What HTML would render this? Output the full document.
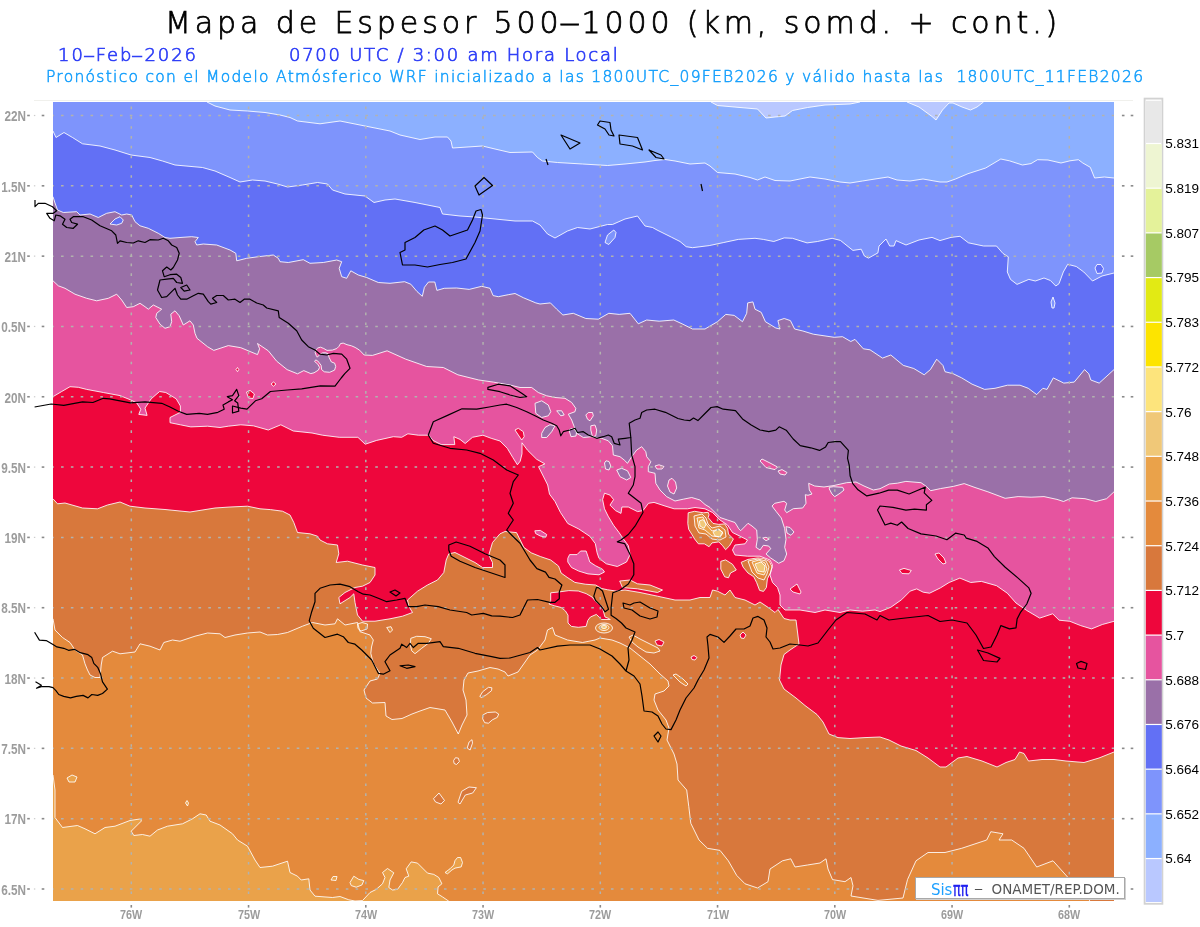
<!DOCTYPE html>
<html><head><meta charset="utf-8"><title>Mapa de Espesor 500-1000</title>
<style>
html,body{margin:0;padding:0;background:#fff;width:1200px;height:927px;overflow:hidden}
#w{position:relative;width:1200px;height:927px}
.cbl{font-family:"Liberation Sans",Arial,sans-serif;font-size:13.5px;fill:#000}
.t{position:absolute;white-space:pre;font-family:"Liberation Sans",Arial,sans-serif;line-height:1}
#t1{left:165px;top:8px;font-family:"DejaVu Sans",sans-serif;font-weight:200;font-size:30px;color:#000;letter-spacing:3.9px;-webkit-text-stroke:0.75px #000}
#t2{left:58px;top:45.7px;font-family:"DejaVu Sans",sans-serif;font-weight:200;font-size:18px;color:#2f3ff7;letter-spacing:1.94px;-webkit-text-stroke:0.7px #2f3ff7}
#t3{left:289px;top:45.7px;font-family:"DejaVu Sans",sans-serif;font-weight:200;font-size:18px;color:#2f3ff7;letter-spacing:1.72px;-webkit-text-stroke:0.7px #2f3ff7}
#t4{left:46px;top:70px;font-family:"DejaVu Sans",sans-serif;font-weight:200;font-size:15.5px;color:#18a0fc;letter-spacing:1.29px;-webkit-text-stroke:0.55px #18a0fc}
.yl{position:absolute;font-family:"Liberation Sans",Arial,sans-serif;font-weight:bold;font-size:14px;color:#9c9c9c;text-align:right;width:60px;line-height:1;transform:scaleX(0.84);transform-origin:100% 50%}
.xl{position:absolute;font-family:"Liberation Sans",Arial,sans-serif;font-weight:bold;font-size:13.5px;color:#9c9c9c;text-align:center;width:40px;line-height:1;transform:scaleX(0.8);transform-origin:50% 50%}
#logo{position:absolute;left:915.3px;top:877px;width:207.5px;height:19.5px;background:#fff;border:1px solid #a8a8a8;box-shadow:1px 1px 0 #d0d0d0}
.lg{position:absolute;font-family:"DejaVu Sans",sans-serif;line-height:1;white-space:pre}
</style></head><body><div id="w">
<svg width="1200" height="927" viewBox="0 0 1200 927" style="position:absolute;left:0;top:0">
<defs><clipPath id="pc"><rect x="53" y="102" width="1061" height="799"/></clipPath>
<clipPath id="cc"><rect x="34" y="102" width="1080" height="799"/></clipPath></defs>
<style>.ct{fill:none;stroke:#fff;stroke-width:1;stroke-opacity:.85;stroke-linejoin:round}.cs{fill:none;stroke:#000;stroke-width:1.2;stroke-linejoin:round}</style>
<line x1="34" y1="100.5" x2="1133" y2="100.5" stroke="#f0f0ec" stroke-width="1"/>
<g clip-path="url(#pc)">
<rect x="53" y="102" width="1061" height="799" fill="#8cb0ff"/>
<polygon points="711,102 717.5,105.5 740,107.5 757.5,109 766,118 775,117 785,116 792.5,110.5 807.5,107.5 825,105 850,104 860,102" fill="#b9c8ff"/>
<polygon points="907,102 919,107 932,116.5 936,120 942.5,110 949,103 953,103 962,107 970.5,110 977,107 983.5,102" fill="#b9c8ff"/>
<polygon points="53,102 207,102 215,106 230,110 247.5,111 265,112.5 280,115 290,117.5 297.5,121 320,123.8 340,121 365,126 390,131 400,135 420,139.5 435,137 447.5,137 451,141 452.5,148 460,147.5 482.5,146 495,149 510,152.5 532.5,152 537.5,157.5 542.5,161 557.5,162.5 582.5,164 607.5,165.5 625,164 645,162 655,160.5 665,159.5 675,161 690,164 705,163 710,166 717.5,172.5 735,174 750,177.5 757.5,180 765,177 775,180.5 790,181 810,177 825,179 840,182 850,183 862.5,181 875,179 888,177 897,180 910,181 923,179 940,182 947,182 955.5,179 968,173.7 985.7,168 1000.8,159 1009.4,160.8 1022.4,165 1031,163.6 1037.5,159.7 1048,160 1061,163 1070,160.8 1078.4,159.7 1082.8,163 1090.3,167.3 1094.6,178 1104.3,177 1114,178 1114,901 53,901" fill="#7e94fc"/>
<polygon points="53,131 56,137.5 64,132.5 72.5,137.5 82.5,143.8 100,146 115,150 131,155 150,157.5 162.5,161 175,165 202.5,167.5 215,171 230,177.5 240,182 252.5,180 265,181 277.5,184 287.5,187 302.5,185 317.5,182.5 327.5,184 332.5,190 345,194 365,196 374,202.5 385,200 395,199 415,202.5 440,207.5 442.5,214 460,216 475,217 495,219 515,221 532.5,221 540,225 547.5,234 555,238 567.5,231 577.5,227.5 590,229 607.5,224.5 612.5,224.5 625,219 637.5,216 645,226 652.5,227.5 657,230 671.7,237.3 680,241.5 686.2,246.7 692.5,247.7 709.2,245.6 723.8,242.5 738.3,239.4 755,238.3 763.3,239.4 773.8,241.5 784.2,237.9 792.5,238.3 807.1,242.9 817.5,241.5 832.1,238.3 840.4,240.4 852.9,250.4 861.2,249.2 864.4,256 868.5,258.1 877.9,252.9 879,246 886,239 889.7,246 894,246 896,240.6 906,245 919,240 932,237.4 940,240.6 951,237.4 960,236.3 968.4,242.8 983.5,246 996.5,246 1003,253.5 1008.3,256.8 1007.3,272 1010.5,279.4 1017,284.4 1028.8,279.4 1035.3,281 1044,278 1050.4,280.5 1055.8,286 1059,283.7 1063.3,272 1067.7,264.3 1076.3,266.5 1083.8,272 1092.5,281 1102,276 1114,273 1114,901 53,901" fill="#6270f5"/>
<polygon points="605,242.5 607.5,235 613.8,230 616,232.5 615,237.5 608.8,244.5" fill="#7e94fc"/>
<polygon points="1052,308 1051,302 1053,297 1055,303 1054,308" fill="#7e94fc"/>
<polygon points="1095,268 1097,264.5 1101,264.5 1103.5,268.5 1102,273 1097,273.5" fill="#6270f5"/>
<polygon points="53,196.7 55,203 57.5,210 63.3,212.5 76.7,211.7 80,215 90,214 98.3,217.5 106.7,213.3 115,211.7 121.7,215 126.7,214 131.7,215 135,221.7 140,225.8 148.3,228.3 158.3,233.3 165,237.5 170,238.3 180,237.5 191.7,236.7 198.3,237.5 195,241.7 196.7,245 203.3,244 216.7,245 230,250 235.8,253.3 236.7,260.8 246.7,258.3 258.3,256.7 273.3,255 278.3,258.3 280,261.7 288.3,262.5 303.3,259.7 310,263.3 323.3,262.5 336.7,260 341.7,261.7 339.2,268.3 341.7,276.7 346.7,278.3 350.8,270.8 358.3,275 366.7,277.5 378.3,282.5 390,283.3 404.6,281.7 410.8,284.2 417,291.5 422.3,296.3 424.4,287.3 428.5,282 434.8,282 436.9,290.4 444.2,288.3 456.7,288 469.2,289.4 481.7,286.3 490,288.3 493.1,295.6 498.3,296.7 508.8,294.6 515,293.5 523.3,297.7 535.8,302.9 540,304 550.4,302.9 556.7,309.2 562.9,315 573.3,313.3 585.8,318.5 598.3,319.2 608.8,313.3 619.2,314.4 630,313.3 638.3,323.8 646.7,320 659.2,321.2 673.8,320 682,323.8 692.5,329 705,329 717.5,321.7 725.8,314.4 734.2,315.4 742.5,321.7 746.7,313.3 747.7,302.9 752.9,301.9 755,309.2 761.2,312.3 765.4,321.7 775.8,328 780,329 777.9,320.6 784.2,318.5 790.4,320.6 794.6,329 802.9,331 813.3,334.2 834.2,337.3 842.5,336.7 850.8,341.5 855,339.4 863.3,348.8 870,349.8 882.5,358.1 890.8,355 903.3,365.4 913.8,368.5 924.2,374.8 930.4,369.6 936.7,359.2 942.9,365.4 945,371.7 953.3,373.8 961.7,377.9 972.1,384.2 984.6,389.4 995,388.3 1007.5,385.2 1020,385.2 1028.3,388.3 1036.7,394.6 1042.9,388.3 1047,389.4 1053.3,377.9 1063.8,383.1 1074.2,382.1 1084.6,369.6 1088.8,373.8 1090.8,380 1099.2,383.1 1114,369.6 1114,901 53,901" fill="#9a70a8"/>
<polygon points="110,224 115,219 120,216.7 123.3,220 121.7,223.3 116.7,225" fill="#6270f5"/>
<polygon points="53,280.8 58.3,285.8 65,288.3 75,294.2 86.7,298.3 96.7,300.8 108.3,298.3 116.7,294.2 121.7,300 126.7,307.5 133.3,306.7 140,303.3 145,306.7 148.3,309.2 153.3,305 161.7,309.2 156.7,313.3 155.8,317.5 160,324.2 165,328.3 170,326.7 171.7,321.7 170.8,314.2 175,310.8 179.2,315.8 183.3,325 190,320.8 193.3,325 195,333.3 197,338.3 207.5,346.7 213.8,350.4 228.3,345.6 240.8,347.7 257.5,354.6 259.6,348.8 257.5,343.5 268.3,350.8 276.7,361.2 287.1,369.6 297.5,373.8 303.8,370.6 310.8,373.6 314,372.8 318.4,370.1 319.5,367.4 317.8,364.2 314.6,361.5 315.7,359.9 317.8,361 321.1,365.3 321.6,369.6 324.3,371.8 329.7,372.3 334.6,370.1 335.7,366.4 334.6,363.1 331.4,362 329.2,357.7 328.1,353.9 325.9,352.8 322.7,352.8 320.5,353.9 317.3,357.2 316.2,355.5 315.1,352.3 316.2,349.6 317.8,348 320.5,347.2 323.8,348.5 327,350.4 332.4,350.1 336.8,348.5 338.9,346.4 340.5,343.6 343.2,343.1 347,344.7 351.4,345.8 355.1,347.4 359.5,350.1 364.2,355 372.5,355.4 387.1,350.8 405.8,359.2 426.7,366.5 443.3,367.5 457.9,374.8 478.8,380 493.3,382.1 510,385 520,387.5 531.7,387.5 538.3,392.5 546.7,395.8 555,397.5 565,398.3 571.7,402.5 575.8,408.3 575,411.7 568.3,414.2 571.7,420 574.2,426.7 576.7,433.3 583.3,437.5 591.7,436.7 601.7,438.3 608.3,440.8 612.5,445.8 613.3,455 620,456.7 624.2,460 627.5,463.3 631.7,456.7 636.7,450 641.7,446.7 645.8,451.7 646.7,456.7 650.8,461.7 648.3,466.7 648.3,471.7 655,473.3 655.8,483.3 660,490 666.7,496.7 675,501 683.3,499.2 691.7,497.5 700,500 705,504.5 710,507.5 715,512.5 720,517.5 727.5,520 735,522.5 738.8,528.8 740.7,530.7 748,523.3 752,526 756.7,530 757.3,539.3 756,547.3 760,550 763.3,545.3 768.7,546 770.7,548.7 766,554 770.7,558 778.7,563.3 784,560.7 786.7,554 784.7,547.3 786,539.3 784.7,528.7 781.3,518 776,511.3 772,506 774.7,503.3 784,501.3 786.7,503.3 784.7,510 786.7,512.7 793.3,508.7 802.7,508 806,503.3 805.3,494.7 808,495.3 812,494 809.3,490 808.7,483.3 814.7,486 824,487 834,485.5 846.7,482.7 856,482 864,486 873.3,490 880,488.7 889.3,484 897.3,483.2 897.3,483.2 905.9,481.4 921,482.7 926.4,486.4 930.7,490.7 940.4,488.6 953.4,486.4 964.2,483.6 975,487.5 987.9,491.8 1005.2,498.3 1018.1,496.6 1031.1,497.2 1044,496.6 1057,499.4 1063.5,501.5 1072.1,497.8 1085,498.7 1095.8,501.5 1106.6,498.7 1114,491.8 1114,901 53,901" fill="#e6549f"/>
<polygon points="829.3,487.3 833.3,486.7 842.7,487.3 844,490 840,493.3 834.7,496.7 832,494 829.3,489" fill="#9a70a8"/>
<polygon points="786,526.7 790,527.5 794,532 791,535.3 787,533" fill="#9a70a8"/>
<polygon points="535,403.3 541.7,400.8 548.3,405 550.8,411.7 548.3,415.8 541.7,417.5 535.8,413.3" fill="#9a70a8"/>
<polygon points="556.7,410.8 561.7,410.8 564.2,415 560.8,415.8" fill="#9a70a8"/>
<polygon points="541.7,433.3 545,427.5 550,424.7 555,425.8 551.7,431.7 546.7,437.5 541.7,437.5" fill="#9a70a8"/>
<polygon points="604.5,463 606,460.8 609,461.5 610.8,466 609,470 605.5,469" fill="#9a70a8"/>
<polygon points="616.7,470 621.7,468.3 627.5,470.8 630.8,477.5 626.7,480 620,476.7" fill="#9a70a8"/>
<polygon points="569,430 572,428.3 576.7,431 576,436 571,436.7" fill="#9a70a8"/>
<polygon points="762.7,538 766,537.3 769.3,539 766,540.7" fill="#e6549f"/>
<polygon points="585.8,415 588.3,412.5 592.5,412.5 593.3,415.8 590,420.8 587.5,419.2" fill="#e6549f"/>
<polygon points="590.8,425.8 595,425 596.7,430 595.8,435.8 592.5,436.7 590.8,430" fill="#e6549f"/>
<polygon points="655,466 659,464.8 664,466.5 662,469 657,469" fill="#e6549f"/>
<polygon points="669,480 672,478.3 675.5,482 676.7,488 674,494 670,492 667.5,486" fill="#e6549f"/>
<polygon points="760,461 762,459 770,463 777.5,467 775,469.6 766,467.5" fill="#e6549f"/>
<polygon points="778,471 782,469.6 787,472.5 785,475 780,474" fill="#e6549f"/>
<polygon points="53,396.7 61.7,391.5 70,386.7 78.3,387.3 86.7,389.4 103.3,392.5 120,395.6 130.4,399.8 136.7,402.9 140.8,409.2 138.8,414.4 147.1,415.4 145,408.1 151.2,398.8 159.6,391.5 165.8,392.5 176.2,398.8 180.4,406 180.4,412.3 170,417.5 170,422.7 180.4,424.8 190.8,426.9 207.5,426.2 220,427.5 228.3,426.2 240.8,424.8 253.3,425.8 268.3,430 280.8,424.8 293.3,431 312,433 322.5,435.2 339.2,437.3 357.9,437.3 365.2,444.2 376.7,440.4 393.3,436.7 401.7,437.3 407.9,433.8 418.3,435.2 428.8,435.2 432.9,440.4 441.2,444.6 454.8,444.6 453.8,436.7 460,439.4 465.2,443.5 472.5,437.3 482.9,435.2 491.2,438.3 500,441 507.3,448.3 512.8,457.5 517.4,464.8 520.2,461.2 522,453.8 522,442.8 527.5,450.2 536.7,459.3 544.9,463.9 538.5,466.7 542.2,474 547.7,485 549.5,494.1 555,501.5 560.5,512.5 567.8,523.5 578.8,529 589.8,536.3 595.3,543.6 597.1,552.8 599,558.3 606.3,563.8 617.3,566.5 626.5,562 630.1,554.6 628.3,545.5 622.8,538.1 619.1,532.6 613.6,525.3 608.1,516.1 604.5,508.8 602.6,499.6 604.5,493.2 610,495.1 613.6,499.6 610,505.1 615.5,510.6 621,513.4 621.9,507 628.3,507 637.5,511.6 643,510.6 648.5,503.3 654,502.4 665,506 674.1,508.8 687.5,508.8 695,507.5 705,508.8 712.5,512.5 720,520 727.5,525 732.5,532.5 740,536.2 747.5,540 745,543.8 735,545 732.5,550 735,555 747.5,556.2 760,556.2 770,560 772.5,565 770,575 772.5,582.5 777.5,587.5 780,595 780,605 785,610 800,610 815,612.5 825,610 840,612.5 850,610 862.5,611.2 875,610 880,611.6 890.8,607.3 901.6,599.7 910.2,591.1 916.7,588.9 923.2,592.2 929.6,593.2 940.4,587.9 949.1,582.5 959.9,578.1 970.7,582.5 981.4,581.4 996.6,585.7 1007.3,593.2 1016,603 1026.8,610.5 1039.7,618.1 1052.7,613.8 1059.1,620.2 1069.9,621.3 1080.7,625.6 1091.5,628.9 1102.3,624.5 1114,621.3 1114,901 53,901" fill="#ee063c"/>
<polygon points="515,430 518.3,428.3 523.3,431.7 524.2,436.7 521.7,440 518.3,435" fill="#ee063c"/>
<polygon points="246.5,392 250,390.4 254.4,394 253,398.5 248.5,398" fill="#ee063c"/>
<polygon points="935,554 939,553 944,558 946,563 943,564 938,559" fill="#ee063c"/>
<polygon points="899.4,570 904,568.4 911.3,570.5 909,573.8 902,573.5" fill="#ee063c"/>
<polygon points="790,589 797,584 801,592 800,594 793,592" fill="#ee063c"/>
<polygon points="236,369.5 237.5,367.5 238.8,369.5 237.5,371.7" fill="#ee063c"/>
<polygon points="271,384 273.5,382 276,384 273.5,386.2" fill="#ee063c"/>
<polygon points="567.8,558.3 569.6,554.6 577,554.6 580.6,551 586.1,551 588,556.5 589.8,562 595.3,565.6 602.6,569.3 604.5,572 599,574.8 588,573.9 578.8,571.1 571.5,567.5 567.8,562" fill="#e6549f"/>
<polygon points="534.8,530.8 540.3,530.4 546.7,534.5 545.8,537.2 540.3,536 535.7,533.6" fill="#e6549f"/>
<polygon points="53,498.8 57.5,503.8 65,503 82.5,508 97.5,508.8 107.5,505 120,502 130,506.2 145,508 165,509.5 190,512 215,508 230,507 247.5,506.2 260,508.8 270.4,509.6 282.5,511.2 290,515 293.8,522.5 297.5,532.5 310,533.8 317.5,536.2 320,540 327.5,543.8 337.5,545 338.8,553.8 336.2,562.5 347.5,561.2 362.5,565 375,567.5 375,575 370,582.5 362.5,586.2 355,587.5 345,592.5 338.8,597.5 340,603.8 350,597.5 353.8,593.8 355,602.5 357.5,615 362.5,621.2 375,621.2 390,618.8 402.5,616.2 412.5,612.5 408.8,606.2 407.5,600 417.5,591.2 427.5,585 437.5,580 443.8,572.5 446.2,560 448.8,553.8 455,552.5 465,557.5 475,562.5 482.5,567.5 492.5,567.5 492.5,562.5 488.8,555 492.5,542.5 500,533.8 505,531.5 516.5,532.6 520.2,540 523.8,547.3 531.2,552.8 540.3,556.5 550.7,560 558.5,566 561.1,573 567.1,577.3 574.9,582.4 585.2,584.2 595.6,585 601.6,588.5 607.7,589.8 616.3,591.1 625,590 640,592.5 657.5,596.2 675,600 690,600 700,597.5 710,597.5 712.5,590 717.5,591.2 725,595 730,590 735,597.5 745,600 755,605 760,602 769,608 775,612.5 778,609.5 784,618.5 790,620 796,620 797.5,632 799,644 790,650 784,654.5 781,665 779.5,680 784,689 796,698 805,705.5 817,714.5 823,722 829,734 838,737.6 850,738.5 865,737.6 880,737 889,740 901,746 916,750.5 928,758 940,767 946,767 958,758 967,756.5 982,761 997,767 1006,762.5 1015,759.5 1019.5,752 1024,753.5 1028.5,761 1042,759.5 1054,759.5 1066,761 1084,762.5 1099,758 1114,752 1114,901 53,901" fill="#d8783c"/>
<polygon points="655,641 659,639.5 664,642 662,646 657,645" fill="#ee063c"/>
<polygon points="691,657 694,655.5 697,657.5 695,660 692,659.5" fill="#ee063c"/>
<polygon points="740,635 743,632 746,635 744,638.5 741,638" fill="#ee063c"/>
<polygon points="550.7,592.8 558.5,592 568.8,590.6 578.3,591 586.1,593.6 592.1,597.1 595.6,601.4 599,604 601.6,605.7 603.3,610.9 605,617 609.4,618.7 610.2,619.5 601.6,619.5 596.4,614.4 590.4,617 587.8,620.4 586.1,626.4 578.3,627.3 571.4,626.4 568,623 568,615.2 565.4,610.9 561.1,607.5 554.2,605.7 549,604 550.7,600.5" fill="#ee063c"/>
<polygon points="619.7,581 630,580 637.5,583.8 650,585 662.5,590 657.5,592.5 637.5,588.8 622.5,587.6" fill="#d8783c"/>
<polygon points="688.2,512.8 694.6,511.3 703.3,512.8 708.2,512.3 709,514.7 708.2,517.6 713,523.4 718.8,524.4 724.7,523.9 727.6,528.3 728.5,534.1 733.4,539 729.5,545.8 725.6,549.7 722.7,545.8 718.8,541.9 712,542.9 709.1,546.7 704.3,543.8 698.4,543.8 694.6,539 691.7,534.1 688.7,529.3 687.8,523.4" fill="#d8783c"/>
<polygon points="741.2,562.3 748,559.4 757.7,557.9 763.5,558.4 769.3,561.3 772.2,567.1 770.3,573 767.4,578.8 766.4,587.5 763.5,591.4 759.6,590.4 756.7,582.7 753.8,576.8 748,573 743.1,567.1" fill="#d8783c"/>
<polygon points="720.8,561.3 725.6,559.9 732.4,564.2 736.3,570 730.5,573 728.5,577.8 724.7,576.8 720.8,569.1" fill="#d8783c"/>
<polygon points="53,618.8 55,630 62.5,637.5 70,642.5 75,650 82.5,655 85,663.8 87.5,670 90,675 95,677.5 100,677.5 101.2,665 102.5,657.5 112.5,651.2 120,653.8 135,652 140,643.8 150,646.2 160,650 163.8,642.5 172.5,640 180,641.2 195,636.2 207.5,633 220,633.8 225,637.5 235,635 247.5,633 260,632 267.5,635 277.5,634.5 287.5,632.5 302.5,626.2 312.5,622.5 325,625 335,623.8 337.5,618.8 345,625 357.5,622.5 360,631.7 370,635 373.3,640 371.5,647 370.8,653.3 373.3,663.3 380,673.3 377.5,679 370,681 364,690 366,698 372.5,703 385,702.5 386,716 392,719.5 402,718.5 412,714 420,711 430,707.5 445,710 452,722 458.3,734 462,725 467,715 466,700 463,690 464,680 468,673 478,671 490,667.5 498,669 505,672 508,676 518,672 530,655 537.5,650 545,640 547.5,630 552.5,627.5 555,635 567.5,640 582.5,642.5 595,640 600,638 612,640 620,643 630,648 640,656 650,664 660,674 668,681 669,686 664,691 658,693 655,694 654,700 658,710 666,720 669,728 667,740 670,746 674,754 677,764 678,780 686.7,790 688.8,806.7 690.8,823.3 699,840 707.5,848.3 720,850.4 728.3,860.8 736.7,875.4 745,883.8 757.5,888 768,881.7 770,869 782.5,860.8 790.8,858.8 795,867 807.5,865 820,863 826,858.8 828,869 832.5,879.6 845,881.7 851,877.5 853,885.8 851,896 878,900.4 903,898 907.5,879.6 916,860.8 928,852.5 945,852.5 961.7,848.3 986.7,840 990.8,831.7 1003,833.8 999,840 1011.7,840 1024,848.3 1036.7,867 1053,860.8 1068,877.5 1080,890 1090,901 53,901" fill="#e48a3c"/>
<polygon points="410.8,638.3 416.7,636.3 425,636.7 431.3,638.7 428.3,643.3 421.7,648.3 415,653.7 411.7,650.8 410.3,645" fill="#e48a3c"/>
<polygon points="357.5,624 362,622.5 367.5,624 367,629 361,631 358,628.5" fill="#e48a3c"/>
<polygon points="386.7,627.5 391,626.7 392.5,630 390,632.5" fill="#e48a3c"/>
<polygon points="694,516 702,514 706,518 708,524 712,528 720,526 725,530 726,537 720,540 712,539 706,534 699,533 695,526" fill="#e48a3c"/>
<polygon points="748,561 758,559 766,561 769,567 767,574 764,580 758,578 752,572" fill="#e48a3c"/>
<polygon points="629,637 633,635 640,639 648,643 658,648 660,651 654,653 646,652 638,647 632,642" fill="#e48a3c"/>
<polygon points="673,675 676,674 683,679 688,684 686,686 680,682" fill="#e48a3c"/>
<polygon points="433.5,798.7 439,793 444.5,800.5 441,804 435.6,802" fill="#d8783c"/>
<polygon points="458,802.3 461.7,791.3 469,787 476.4,787.7 472.7,793 465.3,795 460,804" fill="#d8783c"/>
<polygon points="479.8,696.5 482.7,691.7 488.5,687.3 491.9,687.8 491.5,690.7 486.6,694.6 481.7,697.5" fill="#d8783c"/>
<polygon points="482.7,715 487.6,712.5 495.3,712 498.7,714 497.3,717.4 492.4,719.8 488.5,723.2 484.7,722.7 482.7,718.8" fill="#d8783c"/>
<polygon points="467.2,748 469.1,742 472,739.7 472.5,743.1 470.1,750" fill="#d8783c"/>
<polygon points="453.6,760.6 455.5,757.7 458.4,758.2 459.4,761.6 456.5,764.5 454.1,763.5" fill="#d8783c"/>
<ellipse cx="604" cy="628" rx="8.5" ry="5" fill="#e48a3c"/>
<polygon points="53,775 55,790 55,817.5 62.5,827.5 77.5,825.5 85,828.8 95,833.8 105,827.5 115,826.2 130,820.5 141.2,818.8 141.2,821.2 131.2,831.2 133.8,835.5 142.5,834.5 150,836.2 157.5,830 167.5,826.2 182.5,823.8 192.5,818.8 200,813.8 206.2,815 210,821.2 220,825 232.5,833.8 237.5,840 247.5,846.2 255,860 260,867.5 272.5,866.2 287.5,861.2 290,872.5 297.5,876.2 301.2,880 308.8,878.8 310,890 315,896.2 332.5,897.5 340,896.5 348.8,899.8 355,901 362.5,900.6 370,892.5 376.2,889.4 382.5,883.8 385,877.5 382.5,872.5 387.5,868.5 393.8,872.8 390,880 388.8,887.5 392.5,890 397.5,889.4 402.5,882.5 405,877.5 408.8,876.2 406.2,868.8 411.2,861.9 417.5,863.1 422.5,868.1 427.5,873.1 433.8,874.4 438.8,877.5 441.9,883.8 438.1,886.9 437.5,893.8 442.5,896.9 448.8,901.2 53,901" fill="#eaa24a"/>
<polygon points="185.5,803 187,800.5 188.5,803 187.5,806" fill="#eaa24a"/>
<polygon points="331,880 333,876.5 337,876.5 336,880.5" fill="#eaa24a"/>
<polygon points="697,518 703,517 706,524 712,531 719,529 723,533 720,537 712,536 705,530 699,528" fill="#eaa24a"/>
<polygon points="752,562 759,560 765,563 767,569 764,575 757,573" fill="#eaa24a"/>
<polygon points="445,872.5 450,868.8 453.8,865 455,860.6 457.5,857.5 460.6,857.5 462.5,862.5 461.2,866.9 455,868.1 451.9,870 447.5,873.8" fill="#eaa24a"/>
<polygon points="350,882.5 353.8,876.2 358.8,879.4 363.8,880.6 361.9,885 356.2,887.2 351.2,885.6" fill="#eaa24a"/>
<polygon points="67,778 72,775 77,777 75,782 69,782" fill="#eaa24a"/>
<ellipse cx="604" cy="627.5" rx="5" ry="3" fill="#eaa24a"/>
<polygon points="699.4,521 703,519.6 706.2,524 704,528.3 700,526" fill="#f0c878"/>
<polygon points="713,532 718,529.3 722.7,532 720,537 715,536" fill="#f0c878"/>
<polygon points="755,564 761,562 765,566 764,572 758,571" fill="#f0c878"/>
<ellipse cx="604" cy="627" rx="2.5" ry="1.5" fill="#f0c878"/>
<polyline class="ct" points="711,102 717.5,105.5 740,107.5 757.5,109 766,118 775,117 785,116 792.5,110.5 807.5,107.5 825,105 850,104 860,102"/>
<polyline class="ct" points="907,102 919,107 932,116.5 936,120 942.5,110 949,103 953,103 962,107 970.5,110 977,107 983.5,102"/>
<polyline class="ct" points="207,102 215,106 230,110 247.5,111 265,112.5 280,115 290,117.5 297.5,121 320,123.8 340,121 365,126 390,131 400,135 420,139.5 435,137 447.5,137 451,141 452.5,148 460,147.5 482.5,146 495,149 510,152.5 532.5,152 537.5,157.5 542.5,161 557.5,162.5 582.5,164 607.5,165.5 625,164 645,162 655,160.5 665,159.5 675,161 690,164 705,163 710,166 717.5,172.5 735,174 750,177.5 757.5,180 765,177 775,180.5 790,181 810,177 825,179 840,182 850,183 862.5,181 875,179 888,177 897,180 910,181 923,179 940,182 947,182 955.5,179 968,173.7 985.7,168 1000.8,159 1009.4,160.8 1022.4,165 1031,163.6 1037.5,159.7 1048,160 1061,163 1070,160.8 1078.4,159.7 1082.8,163 1090.3,167.3 1094.6,178 1104.3,177 1114,178"/>
<polyline class="ct" points="53,131 56,137.5 64,132.5 72.5,137.5 82.5,143.8 100,146 115,150 131,155 150,157.5 162.5,161 175,165 202.5,167.5 215,171 230,177.5 240,182 252.5,180 265,181 277.5,184 287.5,187 302.5,185 317.5,182.5 327.5,184 332.5,190 345,194 365,196 374,202.5 385,200 395,199 415,202.5 440,207.5 442.5,214 460,216 475,217 495,219 515,221 532.5,221 540,225 547.5,234 555,238 567.5,231 577.5,227.5 590,229 607.5,224.5 612.5,224.5 625,219 637.5,216 645,226 652.5,227.5 657,230 671.7,237.3 680,241.5 686.2,246.7 692.5,247.7 709.2,245.6 723.8,242.5 738.3,239.4 755,238.3 763.3,239.4 773.8,241.5 784.2,237.9 792.5,238.3 807.1,242.9 817.5,241.5 832.1,238.3 840.4,240.4 852.9,250.4 861.2,249.2 864.4,256 868.5,258.1 877.9,252.9 879,246 886,239 889.7,246 894,246 896,240.6 906,245 919,240 932,237.4 940,240.6 951,237.4 960,236.3 968.4,242.8 983.5,246 996.5,246 1003,253.5 1008.3,256.8 1007.3,272 1010.5,279.4 1017,284.4 1028.8,279.4 1035.3,281 1044,278 1050.4,280.5 1055.8,286 1059,283.7 1063.3,272 1067.7,264.3 1076.3,266.5 1083.8,272 1092.5,281 1102,276 1114,273"/>
<polyline class="ct" points="53,196.7 55,203 57.5,210 63.3,212.5 76.7,211.7 80,215 90,214 98.3,217.5 106.7,213.3 115,211.7 121.7,215 126.7,214 131.7,215 135,221.7 140,225.8 148.3,228.3 158.3,233.3 165,237.5 170,238.3 180,237.5 191.7,236.7 198.3,237.5 195,241.7 196.7,245 203.3,244 216.7,245 230,250 235.8,253.3 236.7,260.8 246.7,258.3 258.3,256.7 273.3,255 278.3,258.3 280,261.7 288.3,262.5 303.3,259.7 310,263.3 323.3,262.5 336.7,260 341.7,261.7 339.2,268.3 341.7,276.7 346.7,278.3 350.8,270.8 358.3,275 366.7,277.5 378.3,282.5 390,283.3 404.6,281.7 410.8,284.2 417,291.5 422.3,296.3 424.4,287.3 428.5,282 434.8,282 436.9,290.4 444.2,288.3 456.7,288 469.2,289.4 481.7,286.3 490,288.3 493.1,295.6 498.3,296.7 508.8,294.6 515,293.5 523.3,297.7 535.8,302.9 540,304 550.4,302.9 556.7,309.2 562.9,315 573.3,313.3 585.8,318.5 598.3,319.2 608.8,313.3 619.2,314.4 630,313.3 638.3,323.8 646.7,320 659.2,321.2 673.8,320 682,323.8 692.5,329 705,329 717.5,321.7 725.8,314.4 734.2,315.4 742.5,321.7 746.7,313.3 747.7,302.9 752.9,301.9 755,309.2 761.2,312.3 765.4,321.7 775.8,328 780,329 777.9,320.6 784.2,318.5 790.4,320.6 794.6,329 802.9,331 813.3,334.2 834.2,337.3 842.5,336.7 850.8,341.5 855,339.4 863.3,348.8 870,349.8 882.5,358.1 890.8,355 903.3,365.4 913.8,368.5 924.2,374.8 930.4,369.6 936.7,359.2 942.9,365.4 945,371.7 953.3,373.8 961.7,377.9 972.1,384.2 984.6,389.4 995,388.3 1007.5,385.2 1020,385.2 1028.3,388.3 1036.7,394.6 1042.9,388.3 1047,389.4 1053.3,377.9 1063.8,383.1 1074.2,382.1 1084.6,369.6 1088.8,373.8 1090.8,380 1099.2,383.1 1114,369.6"/>
<polyline class="ct" points="53,280.8 58.3,285.8 65,288.3 75,294.2 86.7,298.3 96.7,300.8 108.3,298.3 116.7,294.2 121.7,300 126.7,307.5 133.3,306.7 140,303.3 145,306.7 148.3,309.2 153.3,305 161.7,309.2 156.7,313.3 155.8,317.5 160,324.2 165,328.3 170,326.7 171.7,321.7 170.8,314.2 175,310.8 179.2,315.8 183.3,325 190,320.8 193.3,325 195,333.3 197,338.3 207.5,346.7 213.8,350.4 228.3,345.6 240.8,347.7 257.5,354.6 259.6,348.8 257.5,343.5 268.3,350.8 276.7,361.2 287.1,369.6 297.5,373.8 303.8,370.6 310.8,373.6 314,372.8 318.4,370.1 319.5,367.4 317.8,364.2 314.6,361.5 315.7,359.9 317.8,361 321.1,365.3 321.6,369.6 324.3,371.8 329.7,372.3 334.6,370.1 335.7,366.4 334.6,363.1 331.4,362 329.2,357.7 328.1,353.9 325.9,352.8 322.7,352.8 320.5,353.9 317.3,357.2 316.2,355.5 315.1,352.3 316.2,349.6 317.8,348 320.5,347.2 323.8,348.5 327,350.4 332.4,350.1 336.8,348.5 338.9,346.4 340.5,343.6 343.2,343.1 347,344.7 351.4,345.8 355.1,347.4 359.5,350.1 364.2,355 372.5,355.4 387.1,350.8 405.8,359.2 426.7,366.5 443.3,367.5 457.9,374.8 478.8,380 493.3,382.1 510,385 520,387.5 531.7,387.5 538.3,392.5 546.7,395.8 555,397.5 565,398.3 571.7,402.5 575.8,408.3 575,411.7 568.3,414.2 571.7,420 574.2,426.7 576.7,433.3 583.3,437.5 591.7,436.7 601.7,438.3 608.3,440.8 612.5,445.8 613.3,455 620,456.7 624.2,460 627.5,463.3 631.7,456.7 636.7,450 641.7,446.7 645.8,451.7 646.7,456.7 650.8,461.7 648.3,466.7 648.3,471.7 655,473.3 655.8,483.3 660,490 666.7,496.7 675,501 683.3,499.2 691.7,497.5 700,500 705,504.5 710,507.5 715,512.5 720,517.5 727.5,520 735,522.5 738.8,528.8 740.7,530.7 748,523.3 752,526 756.7,530 757.3,539.3 756,547.3 760,550 763.3,545.3 768.7,546 770.7,548.7 766,554 770.7,558 778.7,563.3 784,560.7 786.7,554 784.7,547.3 786,539.3 784.7,528.7 781.3,518 776,511.3 772,506 774.7,503.3 784,501.3 786.7,503.3 784.7,510 786.7,512.7 793.3,508.7 802.7,508 806,503.3 805.3,494.7 808,495.3 812,494 809.3,490 808.7,483.3 814.7,486 824,487 834,485.5 846.7,482.7 856,482 864,486 873.3,490 880,488.7 889.3,484 897.3,483.2 897.3,483.2 905.9,481.4 921,482.7 926.4,486.4 930.7,490.7 940.4,488.6 953.4,486.4 964.2,483.6 975,487.5 987.9,491.8 1005.2,498.3 1018.1,496.6 1031.1,497.2 1044,496.6 1057,499.4 1063.5,501.5 1072.1,497.8 1085,498.7 1095.8,501.5 1106.6,498.7 1114,491.8"/>
<polyline class="ct" points="53,396.7 61.7,391.5 70,386.7 78.3,387.3 86.7,389.4 103.3,392.5 120,395.6 130.4,399.8 136.7,402.9 140.8,409.2 138.8,414.4 147.1,415.4 145,408.1 151.2,398.8 159.6,391.5 165.8,392.5 176.2,398.8 180.4,406 180.4,412.3 170,417.5 170,422.7 180.4,424.8 190.8,426.9 207.5,426.2 220,427.5 228.3,426.2 240.8,424.8 253.3,425.8 268.3,430 280.8,424.8 293.3,431 312,433 322.5,435.2 339.2,437.3 357.9,437.3 365.2,444.2 376.7,440.4 393.3,436.7 401.7,437.3 407.9,433.8 418.3,435.2 428.8,435.2 432.9,440.4 441.2,444.6 454.8,444.6 453.8,436.7 460,439.4 465.2,443.5 472.5,437.3 482.9,435.2 491.2,438.3 500,441 507.3,448.3 512.8,457.5 517.4,464.8 520.2,461.2 522,453.8 522,442.8 527.5,450.2 536.7,459.3 544.9,463.9 538.5,466.7 542.2,474 547.7,485 549.5,494.1 555,501.5 560.5,512.5 567.8,523.5 578.8,529 589.8,536.3 595.3,543.6 597.1,552.8 599,558.3 606.3,563.8 617.3,566.5 626.5,562 630.1,554.6 628.3,545.5 622.8,538.1 619.1,532.6 613.6,525.3 608.1,516.1 604.5,508.8 602.6,499.6 604.5,493.2 610,495.1 613.6,499.6 610,505.1 615.5,510.6 621,513.4 621.9,507 628.3,507 637.5,511.6 643,510.6 648.5,503.3 654,502.4 665,506 674.1,508.8 687.5,508.8 695,507.5 705,508.8 712.5,512.5 720,520 727.5,525 732.5,532.5 740,536.2 747.5,540 745,543.8 735,545 732.5,550 735,555 747.5,556.2 760,556.2 770,560 772.5,565 770,575 772.5,582.5 777.5,587.5 780,595 780,605 785,610 800,610 815,612.5 825,610 840,612.5 850,610 862.5,611.2 875,610 880,611.6 890.8,607.3 901.6,599.7 910.2,591.1 916.7,588.9 923.2,592.2 929.6,593.2 940.4,587.9 949.1,582.5 959.9,578.1 970.7,582.5 981.4,581.4 996.6,585.7 1007.3,593.2 1016,603 1026.8,610.5 1039.7,618.1 1052.7,613.8 1059.1,620.2 1069.9,621.3 1080.7,625.6 1091.5,628.9 1102.3,624.5 1114,621.3"/>
<polyline class="ct" points="53,498.8 57.5,503.8 65,503 82.5,508 97.5,508.8 107.5,505 120,502 130,506.2 145,508 165,509.5 190,512 215,508 230,507 247.5,506.2 260,508.8 270.4,509.6 282.5,511.2 290,515 293.8,522.5 297.5,532.5 310,533.8 317.5,536.2 320,540 327.5,543.8 337.5,545 338.8,553.8 336.2,562.5 347.5,561.2 362.5,565 375,567.5 375,575 370,582.5 362.5,586.2 355,587.5 345,592.5 338.8,597.5 340,603.8 350,597.5 353.8,593.8 355,602.5 357.5,615 362.5,621.2 375,621.2 390,618.8 402.5,616.2 412.5,612.5 408.8,606.2 407.5,600 417.5,591.2 427.5,585 437.5,580 443.8,572.5 446.2,560 448.8,553.8 455,552.5 465,557.5 475,562.5 482.5,567.5 492.5,567.5 492.5,562.5 488.8,555 492.5,542.5 500,533.8 505,531.5 516.5,532.6 520.2,540 523.8,547.3 531.2,552.8 540.3,556.5 550.7,560 558.5,566 561.1,573 567.1,577.3 574.9,582.4 585.2,584.2 595.6,585 601.6,588.5 607.7,589.8 616.3,591.1 625,590 640,592.5 657.5,596.2 675,600 690,600 700,597.5 710,597.5 712.5,590 717.5,591.2 725,595 730,590 735,597.5 745,600 755,605 760,602 769,608 775,612.5 778,609.5 784,618.5 790,620 796,620 797.5,632 799,644 790,650 784,654.5 781,665 779.5,680 784,689 796,698 805,705.5 817,714.5 823,722 829,734 838,737.6 850,738.5 865,737.6 880,737 889,740 901,746 916,750.5 928,758 940,767 946,767 958,758 967,756.5 982,761 997,767 1006,762.5 1015,759.5 1019.5,752 1024,753.5 1028.5,761 1042,759.5 1054,759.5 1066,761 1084,762.5 1099,758 1114,752"/>
<polyline class="ct" points="53,618.8 55,630 62.5,637.5 70,642.5 75,650 82.5,655 85,663.8 87.5,670 90,675 95,677.5 100,677.5 101.2,665 102.5,657.5 112.5,651.2 120,653.8 135,652 140,643.8 150,646.2 160,650 163.8,642.5 172.5,640 180,641.2 195,636.2 207.5,633 220,633.8 225,637.5 235,635 247.5,633 260,632 267.5,635 277.5,634.5 287.5,632.5 302.5,626.2 312.5,622.5 325,625 335,623.8 337.5,618.8 345,625 357.5,622.5 360,631.7 370,635 373.3,640 371.5,647 370.8,653.3 373.3,663.3 380,673.3 377.5,679 370,681 364,690 366,698 372.5,703 385,702.5 386,716 392,719.5 402,718.5 412,714 420,711 430,707.5 445,710 452,722 458.3,734 462,725 467,715 466,700 463,690 464,680 468,673 478,671 490,667.5 498,669 505,672 508,676 518,672 530,655 537.5,650 545,640 547.5,630 552.5,627.5 555,635 567.5,640 582.5,642.5 595,640 600,638 612,640 620,643 630,648 640,656 650,664 660,674 668,681 669,686 664,691 658,693 655,694 654,700 658,710 666,720 669,728 667,740 670,746 674,754 677,764 678,780 686.7,790 688.8,806.7 690.8,823.3 699,840 707.5,848.3 720,850.4 728.3,860.8 736.7,875.4 745,883.8 757.5,888 768,881.7 770,869 782.5,860.8 790.8,858.8 795,867 807.5,865 820,863 826,858.8 828,869 832.5,879.6 845,881.7 851,877.5 853,885.8 851,896 878,900.4 903,898 907.5,879.6 916,860.8 928,852.5 945,852.5 961.7,848.3 986.7,840 990.8,831.7 1003,833.8 999,840 1011.7,840 1024,848.3 1036.7,867 1053,860.8 1068,877.5 1080,890 1090,901"/>
<polyline class="ct" points="53,775 55,790 55,817.5 62.5,827.5 77.5,825.5 85,828.8 95,833.8 105,827.5 115,826.2 130,820.5 141.2,818.8 141.2,821.2 131.2,831.2 133.8,835.5 142.5,834.5 150,836.2 157.5,830 167.5,826.2 182.5,823.8 192.5,818.8 200,813.8 206.2,815 210,821.2 220,825 232.5,833.8 237.5,840 247.5,846.2 255,860 260,867.5 272.5,866.2 287.5,861.2 290,872.5 297.5,876.2 301.2,880 308.8,878.8 310,890 315,896.2 332.5,897.5 340,896.5 348.8,899.8 355,901 362.5,900.6 370,892.5 376.2,889.4 382.5,883.8 385,877.5 382.5,872.5 387.5,868.5 393.8,872.8 390,880 388.8,887.5 392.5,890 397.5,889.4 402.5,882.5 405,877.5 408.8,876.2 406.2,868.8 411.2,861.9 417.5,863.1 422.5,868.1 427.5,873.1 433.8,874.4 438.8,877.5 441.9,883.8 438.1,886.9 437.5,893.8 442.5,896.9 448.8,901.2"/>
<polygon class="ct" points="605,242.5 607.5,235 613.8,230 616,232.5 615,237.5 608.8,244.5"/>
<polygon class="ct" points="1052,308 1051,302 1053,297 1055,303 1054,308"/>
<polygon class="ct" points="1095,268 1097,264.5 1101,264.5 1103.5,268.5 1102,273 1097,273.5"/>
<polygon class="ct" points="110,224 115,219 120,216.7 123.3,220 121.7,223.3 116.7,225"/>
<polygon class="ct" points="829.3,487.3 833.3,486.7 842.7,487.3 844,490 840,493.3 834.7,496.7 832,494 829.3,489"/>
<polygon class="ct" points="786,526.7 790,527.5 794,532 791,535.3 787,533"/>
<polygon class="ct" points="535,403.3 541.7,400.8 548.3,405 550.8,411.7 548.3,415.8 541.7,417.5 535.8,413.3"/>
<polygon class="ct" points="556.7,410.8 561.7,410.8 564.2,415 560.8,415.8"/>
<polygon class="ct" points="541.7,433.3 545,427.5 550,424.7 555,425.8 551.7,431.7 546.7,437.5 541.7,437.5"/>
<polygon class="ct" points="604.5,463 606,460.8 609,461.5 610.8,466 609,470 605.5,469"/>
<polygon class="ct" points="616.7,470 621.7,468.3 627.5,470.8 630.8,477.5 626.7,480 620,476.7"/>
<polygon class="ct" points="569,430 572,428.3 576.7,431 576,436 571,436.7"/>
<polygon class="ct" points="762.7,538 766,537.3 769.3,539 766,540.7"/>
<polygon class="ct" points="585.8,415 588.3,412.5 592.5,412.5 593.3,415.8 590,420.8 587.5,419.2"/>
<polygon class="ct" points="590.8,425.8 595,425 596.7,430 595.8,435.8 592.5,436.7 590.8,430"/>
<polygon class="ct" points="655,466 659,464.8 664,466.5 662,469 657,469"/>
<polygon class="ct" points="669,480 672,478.3 675.5,482 676.7,488 674,494 670,492 667.5,486"/>
<polygon class="ct" points="760,461 762,459 770,463 777.5,467 775,469.6 766,467.5"/>
<polygon class="ct" points="778,471 782,469.6 787,472.5 785,475 780,474"/>
<polygon class="ct" points="515,430 518.3,428.3 523.3,431.7 524.2,436.7 521.7,440 518.3,435"/>
<polygon class="ct" points="246.5,392 250,390.4 254.4,394 253,398.5 248.5,398"/>
<polygon class="ct" points="935,554 939,553 944,558 946,563 943,564 938,559"/>
<polygon class="ct" points="899.4,570 904,568.4 911.3,570.5 909,573.8 902,573.5"/>
<polygon class="ct" points="790,589 797,584 801,592 800,594 793,592"/>
<polygon class="ct" points="236,369.5 237.5,367.5 238.8,369.5 237.5,371.7"/>
<polygon class="ct" points="271,384 273.5,382 276,384 273.5,386.2"/>
<polygon class="ct" points="567.8,558.3 569.6,554.6 577,554.6 580.6,551 586.1,551 588,556.5 589.8,562 595.3,565.6 602.6,569.3 604.5,572 599,574.8 588,573.9 578.8,571.1 571.5,567.5 567.8,562"/>
<polygon class="ct" points="534.8,530.8 540.3,530.4 546.7,534.5 545.8,537.2 540.3,536 535.7,533.6"/>
<polygon class="ct" points="655,641 659,639.5 664,642 662,646 657,645"/>
<polygon class="ct" points="691,657 694,655.5 697,657.5 695,660 692,659.5"/>
<polygon class="ct" points="740,635 743,632 746,635 744,638.5 741,638"/>
<polygon class="ct" points="550.7,592.8 558.5,592 568.8,590.6 578.3,591 586.1,593.6 592.1,597.1 595.6,601.4 599,604 601.6,605.7 603.3,610.9 605,617 609.4,618.7 610.2,619.5 601.6,619.5 596.4,614.4 590.4,617 587.8,620.4 586.1,626.4 578.3,627.3 571.4,626.4 568,623 568,615.2 565.4,610.9 561.1,607.5 554.2,605.7 549,604 550.7,600.5"/>
<polygon class="ct" points="619.7,581 630,580 637.5,583.8 650,585 662.5,590 657.5,592.5 637.5,588.8 622.5,587.6"/>
<polygon class="ct" points="688.2,512.8 694.6,511.3 703.3,512.8 708.2,512.3 709,514.7 708.2,517.6 713,523.4 718.8,524.4 724.7,523.9 727.6,528.3 728.5,534.1 733.4,539 729.5,545.8 725.6,549.7 722.7,545.8 718.8,541.9 712,542.9 709.1,546.7 704.3,543.8 698.4,543.8 694.6,539 691.7,534.1 688.7,529.3 687.8,523.4"/>
<polygon class="ct" points="741.2,562.3 748,559.4 757.7,557.9 763.5,558.4 769.3,561.3 772.2,567.1 770.3,573 767.4,578.8 766.4,587.5 763.5,591.4 759.6,590.4 756.7,582.7 753.8,576.8 748,573 743.1,567.1"/>
<polygon class="ct" points="720.8,561.3 725.6,559.9 732.4,564.2 736.3,570 730.5,573 728.5,577.8 724.7,576.8 720.8,569.1"/>
<polygon class="ct" points="410.8,638.3 416.7,636.3 425,636.7 431.3,638.7 428.3,643.3 421.7,648.3 415,653.7 411.7,650.8 410.3,645"/>
<polygon class="ct" points="357.5,624 362,622.5 367.5,624 367,629 361,631 358,628.5"/>
<polygon class="ct" points="386.7,627.5 391,626.7 392.5,630 390,632.5"/>
<polygon class="ct" points="694,516 702,514 706,518 708,524 712,528 720,526 725,530 726,537 720,540 712,539 706,534 699,533 695,526"/>
<polygon class="ct" points="748,561 758,559 766,561 769,567 767,574 764,580 758,578 752,572"/>
<polygon class="ct" points="629,637 633,635 640,639 648,643 658,648 660,651 654,653 646,652 638,647 632,642"/>
<polygon class="ct" points="673,675 676,674 683,679 688,684 686,686 680,682"/>
<polygon class="ct" points="433.5,798.7 439,793 444.5,800.5 441,804 435.6,802"/>
<polygon class="ct" points="458,802.3 461.7,791.3 469,787 476.4,787.7 472.7,793 465.3,795 460,804"/>
<polygon class="ct" points="479.8,696.5 482.7,691.7 488.5,687.3 491.9,687.8 491.5,690.7 486.6,694.6 481.7,697.5"/>
<polygon class="ct" points="482.7,715 487.6,712.5 495.3,712 498.7,714 497.3,717.4 492.4,719.8 488.5,723.2 484.7,722.7 482.7,718.8"/>
<polygon class="ct" points="467.2,748 469.1,742 472,739.7 472.5,743.1 470.1,750"/>
<polygon class="ct" points="453.6,760.6 455.5,757.7 458.4,758.2 459.4,761.6 456.5,764.5 454.1,763.5"/>
<polygon class="ct" points="185.5,803 187,800.5 188.5,803 187.5,806"/>
<polygon class="ct" points="331,880 333,876.5 337,876.5 336,880.5"/>
<polygon class="ct" points="697,518 703,517 706,524 712,531 719,529 723,533 720,537 712,536 705,530 699,528"/>
<polygon class="ct" points="752,562 759,560 765,563 767,569 764,575 757,573"/>
<polygon class="ct" points="445,872.5 450,868.8 453.8,865 455,860.6 457.5,857.5 460.6,857.5 462.5,862.5 461.2,866.9 455,868.1 451.9,870 447.5,873.8"/>
<polygon class="ct" points="350,882.5 353.8,876.2 358.8,879.4 363.8,880.6 361.9,885 356.2,887.2 351.2,885.6"/>
<polygon class="ct" points="67,778 72,775 77,777 75,782 69,782"/>
<polygon class="ct" points="699.4,521 703,519.6 706.2,524 704,528.3 700,526"/>
<polygon class="ct" points="713,532 718,529.3 722.7,532 720,537 715,536"/>
<polygon class="ct" points="755,564 761,562 765,566 764,572 758,571"/>
<ellipse class="ct" cx="604" cy="628" rx="8.5" ry="5"/>
<ellipse class="ct" cx="604" cy="627.5" rx="5" ry="3"/>
<ellipse class="ct" cx="604" cy="627" rx="2.5" ry="1.5"/>
<line x1="53" y1="115.5" x2="1114" y2="115.5" stroke="#b2b2ae" stroke-width="1.5" stroke-dasharray="2.6 7.22" stroke-dashoffset="1.8"/>
<line x1="53" y1="185.818" x2="1114" y2="185.818" stroke="#b2b2ae" stroke-width="1.5" stroke-dasharray="2.6 7.22" stroke-dashoffset="1.8"/>
<line x1="53" y1="256.136" x2="1114" y2="256.136" stroke="#b2b2ae" stroke-width="1.5" stroke-dasharray="2.6 7.22" stroke-dashoffset="1.8"/>
<line x1="53" y1="326.454" x2="1114" y2="326.454" stroke="#b2b2ae" stroke-width="1.5" stroke-dasharray="2.6 7.22" stroke-dashoffset="1.8"/>
<line x1="53" y1="396.772" x2="1114" y2="396.772" stroke="#b2b2ae" stroke-width="1.5" stroke-dasharray="2.6 7.22" stroke-dashoffset="1.8"/>
<line x1="53" y1="467.09" x2="1114" y2="467.09" stroke="#b2b2ae" stroke-width="1.5" stroke-dasharray="2.6 7.22" stroke-dashoffset="1.8"/>
<line x1="53" y1="537.408" x2="1114" y2="537.408" stroke="#b2b2ae" stroke-width="1.5" stroke-dasharray="2.6 7.22" stroke-dashoffset="1.8"/>
<line x1="53" y1="607.726" x2="1114" y2="607.726" stroke="#b2b2ae" stroke-width="1.5" stroke-dasharray="2.6 7.22" stroke-dashoffset="1.8"/>
<line x1="53" y1="678.044" x2="1114" y2="678.044" stroke="#b2b2ae" stroke-width="1.5" stroke-dasharray="2.6 7.22" stroke-dashoffset="1.8"/>
<line x1="53" y1="748.362" x2="1114" y2="748.362" stroke="#b2b2ae" stroke-width="1.5" stroke-dasharray="2.6 7.22" stroke-dashoffset="1.8"/>
<line x1="53" y1="818.68" x2="1114" y2="818.68" stroke="#b2b2ae" stroke-width="1.5" stroke-dasharray="2.6 7.22" stroke-dashoffset="1.8"/>
<line x1="53" y1="888.998" x2="1114" y2="888.998" stroke="#b2b2ae" stroke-width="1.5" stroke-dasharray="2.6 7.22" stroke-dashoffset="1.8"/>
<line x1="131.3" y1="102" x2="131.3" y2="901" stroke="#b2b2ae" stroke-width="1.5" stroke-dasharray="2.6 7.21" stroke-dashoffset="-4.6"/>
<line x1="248.55" y1="102" x2="248.55" y2="901" stroke="#b2b2ae" stroke-width="1.5" stroke-dasharray="2.6 7.21" stroke-dashoffset="-4.6"/>
<line x1="365.8" y1="102" x2="365.8" y2="901" stroke="#b2b2ae" stroke-width="1.5" stroke-dasharray="2.6 7.21" stroke-dashoffset="-4.6"/>
<line x1="483.05" y1="102" x2="483.05" y2="901" stroke="#b2b2ae" stroke-width="1.5" stroke-dasharray="2.6 7.21" stroke-dashoffset="-4.6"/>
<line x1="600.3" y1="102" x2="600.3" y2="901" stroke="#b2b2ae" stroke-width="1.5" stroke-dasharray="2.6 7.21" stroke-dashoffset="-4.6"/>
<line x1="717.55" y1="102" x2="717.55" y2="901" stroke="#b2b2ae" stroke-width="1.5" stroke-dasharray="2.6 7.21" stroke-dashoffset="-4.6"/>
<line x1="834.8" y1="102" x2="834.8" y2="901" stroke="#b2b2ae" stroke-width="1.5" stroke-dasharray="2.6 7.21" stroke-dashoffset="-4.6"/>
<line x1="952.05" y1="102" x2="952.05" y2="901" stroke="#b2b2ae" stroke-width="1.5" stroke-dasharray="2.6 7.21" stroke-dashoffset="-4.6"/>
<line x1="1069.3" y1="102" x2="1069.3" y2="901" stroke="#b2b2ae" stroke-width="1.5" stroke-dasharray="2.6 7.21" stroke-dashoffset="-4.6"/>
</g>
<g clip-path="url(#cc)">
<polyline class="cs" points="35,200 35,206.7 38.3,203.3 45,203.3 52.5,206.7 56.7,210.8 53.3,213.3 46.7,213.3 50,218.3 54.2,220.8 55.8,215 60,215.8 65,219.2 62.5,224.2 66.7,227.5 73.3,228.3 77.5,224.2 71.7,222.5 70,219.2 73.3,216.7 83.3,216.7 91.7,220 100,225.8 111.7,230.8 115.8,235 117.5,243.3 120,240.8 126.7,242.5 133.3,243 138.3,240.8 145,242.5 150,239.7 158.3,240 163.3,238.3 168.3,240.8 171.7,245 176.7,247.5 179.2,253.3 177.5,260 173.3,267.5 170.8,270 166.7,267 162.5,270.8 164.2,276.7 170,274.7 176.7,274.2 180.8,277.5 182.5,283.3 176.7,282.5 173.3,278.3 166.7,279.2 160,280 157.5,290 161.7,297.5 166.7,296.7 171.7,291.7 175,288.3 177.5,295 180.8,299.2 186.7,299.2 193.3,295.8 198.3,293.3 203.3,294.2 208.3,301.7 210.8,304.2 216.7,302.5 212.5,298.3 216.7,295.5 223.3,295.5 228.3,300 235,299.2 240,302.5 244.2,299.2 250,299.2 256.7,303 263.3,305 266.7,308 278.3,310.8 279.2,317.5 288.3,323.3 296.7,330.8 301.7,340 308.3,346.7 315,350 320,354.2 326.7,355 333.3,353.3 341.7,354.2 346.7,359.2 350,368.3 345,373.3 341.2,378 335,386.2 320.4,385.8 301.7,388.8 287.1,390 270.4,391.5 261.7,398.8 255.4,400.8 247,409.2 240.8,408.1 232.5,406 232.5,413 238.8,411.2 237.7,402.9 234.6,400.8 238.8,395.6 236.7,389.4 232.5,395.6 227.3,396.7 232.5,399.8 228.3,401.9 223,405 224.2,409.2 217.9,412.3 207.5,414.4 199.2,413.3 186.7,414.4 178.3,411.2 170,407 161.7,403.3 145,401.9 130.4,402.9 109.6,398.8 103.3,398.3 92.9,402.5 82.5,401.9 63.8,405.4 51.2,404 34.6,407"/>
<polygon class="cs" points="180.8,287.5 186.7,285 190,290 184.2,291.2"/>
<polygon class="cs" points="402.5,265 400,252.5 405,250 405,242.5 415,237.5 423.8,230 435,226 442.5,230 450,236 467.5,230 472.5,220 476,211 481,209.5 482.5,215 480,231 475,242.5 466,259 452.5,262.5 440,264.5 427.5,267 415,265"/>
<polygon class="cs" points="475,186 484,177.5 492.5,185.5 479,195"/>
<polygon class="cs" points="561,135 570,149 580,143"/>
<polygon class="cs" points="597.5,125 600,121 610,122.5 611,130 614,136 609,135 605,129"/>
<polygon class="cs" points="619,135 637.5,137.5 642.5,150 632.5,146 620,144"/>
<polygon class="cs" points="649,150 661,155 664,159 656,157.5"/>
<polygon class="cs" points="433.3,421.7 447.5,415.4 462,408.8 476.7,409.2 489.2,407 500,405 506.7,404.2 516.7,407.5 526.7,411.7 535,415.8 543.3,420 551.7,423.3 556.7,425.8 559.2,430 560.8,435.8 563.3,431.7 570,430 575,428.3 577.5,432.5 583.3,431.7 588.3,435 596.7,438.3 603.3,436.7 608.3,435 611.7,436.7 614.2,443.3 620,445 618.3,439.2 625,438.3 630.8,437.5 630,430 629.2,423.3 635,420 640,418.3 641.7,412.5 646.7,410 655,409.2 665.4,412.3 677.9,418.5 684.2,420 690,420.6 693.5,418 697.9,420.6 704,414.5 711,407.5 717.1,406.6 723.2,409.2 735.5,410.6 742.5,418.9 751.2,425 760,430 768.8,431.6 775.8,430.2 779.2,426.8 786.2,430.2 793.2,439 800.2,445.6 810.8,447.8 819.5,450.4 825.6,446.9 828.2,442.5 835.2,441.6 840.5,441.6 848.4,450.4 847.5,458.2 849.2,465.2 850.1,475.8 852.8,483.6 858,489.8 866.8,495.9 879,493.2 888.6,490.1 897.3,490.1 909.1,494 916.7,490.7 925.3,487.1 924.2,492.9 931.8,500.4 926.4,504.8 926.4,510.1 914.5,509.1 905.9,510.1 892.9,507.3 880,506 877.5,510 880,515 885,525 890.8,523.1 897.3,525.3 901.6,522 908.1,528.5 921,533.9 936.1,536 946.9,539.7 955.5,533.2 964.2,535 966.3,538.2 977.1,541.4 987.9,547.9 994.4,556.6 1005.2,567.3 1018.1,578.1 1028.9,587.9 1031.1,593.2 1026.8,604 1020.3,612.7 1017.1,619.1 1016,627.8 1009.5,628.9 1000.9,625.6 997,635 991,647 983.5,648.5 976,635 967,623 952,620 940,621.5 928,615.5 901,618.5 889,620 880,615.5 877,620 865,614 847,612.5 836,620 828,630 818,643 808,646 800,645 790,644 780,648 773,649 770,642 766,637 767,628 764,620 758,616.4 753,618 750,626 744,629 736,629 730,636 724,642.4 718,637 710,634.4 707,637 708,646 709,658 704,670 698,680 694,688 686,698 680,710 676,720 671,729.6 666,729 662,724 658,716 652,712 644,711 642,696 640,684 634,676 626,671 620,664 612,656 600,649 590,645 570,645 557.5,646.2 540,650 537.5,647.5 530,652.5 510,658 500,658.3 491.7,656.7 475,653.3 458.3,648.3 443.3,646.7 440,641.7 426.7,643.3 418.3,643.3 413.3,647.5 410,643.3 406.7,647.5 401.7,644.2 400,648.3 390,655 385,661.7 390,670.8 383.3,674.2 378.3,673.3 371.7,660 361.7,650 355,644.2 348.3,642.5 343.3,636.7 337.5,634.2 325,637.5 313.3,628.3 309.2,620.8 311.7,611.7 315,601.7 315,593.3 320,588.3 330,585 340,584.2 350,586.7 358.3,591.7 363.3,594.2 370,595 378.3,598.3 386.7,601.7 396.7,600 405,598.3 408.3,606.7 416.7,606.7 425,605 438.3,606.7 450,610 466.7,612.5 471.7,615 483.3,613.3 491.7,615.8 500,616.2 512.5,617.5 520,615 527.5,600 537.5,599.5 549.8,602.3 555,602.3 559.3,598.8 559.3,591.9 561.9,585 555,579 549,577.3 545.5,572.1 536.9,568.6 530,560 520,543.3 513.3,536.7 506.7,530 513.3,520 508.3,513.3 513.3,503.3 510,493.3 513.3,481.7 518.3,475 506.7,470 493.3,460 480,453.3 466.7,450 450,448.3 433.3,443.3 428.3,435"/>
<polygon class="cs" points="448.8,545 456.2,542 470,546.2 485,553.8 500,560 505,565 505,577.5 490,572.5 475,567.5 460,561.2 451.2,556.2 448.8,550"/>
<polygon class="cs" points="487.9,387.3 498.3,384.2 510,385.8 521.7,393.3 526.7,396.7 520,397.5 510,395 500,391.7 487.9,389.4"/>
<polygon class="cs" points="400,665.8 406.7,668.3 415,666.7 408.3,665"/>
<polygon class="cs" points="390,592 395,590 400,593 396,596"/>
<polygon class="cs" points="654,736 658,732 661,736 658,742"/>
<polygon class="cs" points="977.5,650 988,653 1000,658.4 997,662 983.5,660.5"/>
<polygon class="cs" points="1076.5,663.5 1081,661.4 1087,663.5 1085.5,669.5 1078,668"/>
<polygon class="cs" points="596.4,587.6 593.8,596.2 595.6,600.5 600.8,605.7 605.1,611.8 608.5,609.2 602.5,591 598.2,587.6"/>
<polygon class="cs" points="623,603 624,608 632,610 640,616 650,619 657,617 658,611 650,608 640,602 634,603 630,605"/>
<polyline class="cs" points="546,159 548,165"/>
<polyline class="cs" points="701,184 702.5,191"/>
<polyline class="cs" points="630.8,437.5 631.7,455 635,466.7 635,476.7 633.3,485 628.3,493.3 641.1,503.3 643,512.5 635.6,525.3 628.3,534.5 621,540 617.3,541.8 624.6,543.6 630.1,554.6 633.8,563.8 633.8,574.8 628.3,584 619.7,590.2 612.8,592.8 611.1,607.5 611.1,615.2 616.3,618.7 621.5,623 626,628 635,632 632,640 628,648 629,660 626,671"/>
<polyline class="cs" points="34.6,632.3 39.4,640.1 46.2,640.6 53,644.5 56.9,646.9 63.7,648.3 68.5,650.3 74.4,649.3 80.2,652.7 88,654.7 91.8,657.6 93.8,663.4 97.7,667.3 100.6,674.1 102.5,681.8 107.4,689.1 102.5,693.5 97.7,695.4 91.8,694.5 88,697.9 83.1,695.4 76.3,696.4 70.5,697.9 63.7,696.4 58.8,694.5 55.9,690.6 53,687.7 49.1,686.7 41.4,686.7 36.5,688.2 41.4,685.2 35.5,681.8"/>
</g>
<rect x="27.2" y="114.7" width="2.6" height="1.6" fill="#8a8a8a"/>
<rect x="41.7" y="114.7" width="2.6" height="1.6" fill="#8a8a8a"/>
<rect x="33.9" y="114.9" width="1.4" height="1.2" fill="#ccc"/>
<rect x="1121.9" y="114.7" width="2.6" height="1.6" fill="#8a8a8a"/>
<rect x="1130.7" y="114.7" width="2.6" height="1.6" fill="#8a8a8a"/>
<rect x="27.2" y="185.018" width="2.6" height="1.6" fill="#8a8a8a"/>
<rect x="41.7" y="185.018" width="2.6" height="1.6" fill="#8a8a8a"/>
<rect x="33.9" y="185.218" width="1.4" height="1.2" fill="#ccc"/>
<rect x="1121.9" y="185.018" width="2.6" height="1.6" fill="#8a8a8a"/>
<rect x="1130.7" y="185.018" width="2.6" height="1.6" fill="#8a8a8a"/>
<rect x="27.2" y="255.336" width="2.6" height="1.6" fill="#8a8a8a"/>
<rect x="41.7" y="255.336" width="2.6" height="1.6" fill="#8a8a8a"/>
<rect x="33.9" y="255.536" width="1.4" height="1.2" fill="#ccc"/>
<rect x="1121.9" y="255.336" width="2.6" height="1.6" fill="#8a8a8a"/>
<rect x="1130.7" y="255.336" width="2.6" height="1.6" fill="#8a8a8a"/>
<rect x="27.2" y="325.654" width="2.6" height="1.6" fill="#8a8a8a"/>
<rect x="41.7" y="325.654" width="2.6" height="1.6" fill="#8a8a8a"/>
<rect x="33.9" y="325.854" width="1.4" height="1.2" fill="#ccc"/>
<rect x="1121.9" y="325.654" width="2.6" height="1.6" fill="#8a8a8a"/>
<rect x="1130.7" y="325.654" width="2.6" height="1.6" fill="#8a8a8a"/>
<rect x="27.2" y="395.972" width="2.6" height="1.6" fill="#8a8a8a"/>
<rect x="41.7" y="395.972" width="2.6" height="1.6" fill="#8a8a8a"/>
<rect x="33.9" y="396.172" width="1.4" height="1.2" fill="#ccc"/>
<rect x="1121.9" y="395.972" width="2.6" height="1.6" fill="#8a8a8a"/>
<rect x="1130.7" y="395.972" width="2.6" height="1.6" fill="#8a8a8a"/>
<rect x="27.2" y="466.29" width="2.6" height="1.6" fill="#8a8a8a"/>
<rect x="41.7" y="466.29" width="2.6" height="1.6" fill="#8a8a8a"/>
<rect x="33.9" y="466.49" width="1.4" height="1.2" fill="#ccc"/>
<rect x="1121.9" y="466.29" width="2.6" height="1.6" fill="#8a8a8a"/>
<rect x="1130.7" y="466.29" width="2.6" height="1.6" fill="#8a8a8a"/>
<rect x="27.2" y="536.608" width="2.6" height="1.6" fill="#8a8a8a"/>
<rect x="41.7" y="536.608" width="2.6" height="1.6" fill="#8a8a8a"/>
<rect x="33.9" y="536.808" width="1.4" height="1.2" fill="#ccc"/>
<rect x="1121.9" y="536.608" width="2.6" height="1.6" fill="#8a8a8a"/>
<rect x="1130.7" y="536.608" width="2.6" height="1.6" fill="#8a8a8a"/>
<rect x="27.2" y="606.926" width="2.6" height="1.6" fill="#8a8a8a"/>
<rect x="41.7" y="606.926" width="2.6" height="1.6" fill="#8a8a8a"/>
<rect x="33.9" y="607.126" width="1.4" height="1.2" fill="#ccc"/>
<rect x="1121.9" y="606.926" width="2.6" height="1.6" fill="#8a8a8a"/>
<rect x="1130.7" y="606.926" width="2.6" height="1.6" fill="#8a8a8a"/>
<rect x="27.2" y="677.244" width="2.6" height="1.6" fill="#8a8a8a"/>
<rect x="41.7" y="677.244" width="2.6" height="1.6" fill="#8a8a8a"/>
<rect x="33.9" y="677.444" width="1.4" height="1.2" fill="#ccc"/>
<rect x="1121.9" y="677.244" width="2.6" height="1.6" fill="#8a8a8a"/>
<rect x="1130.7" y="677.244" width="2.6" height="1.6" fill="#8a8a8a"/>
<rect x="27.2" y="747.562" width="2.6" height="1.6" fill="#8a8a8a"/>
<rect x="41.7" y="747.562" width="2.6" height="1.6" fill="#8a8a8a"/>
<rect x="33.9" y="747.762" width="1.4" height="1.2" fill="#ccc"/>
<rect x="1121.9" y="747.562" width="2.6" height="1.6" fill="#8a8a8a"/>
<rect x="1130.7" y="747.562" width="2.6" height="1.6" fill="#8a8a8a"/>
<rect x="27.2" y="817.88" width="2.6" height="1.6" fill="#8a8a8a"/>
<rect x="41.7" y="817.88" width="2.6" height="1.6" fill="#8a8a8a"/>
<rect x="33.9" y="818.08" width="1.4" height="1.2" fill="#ccc"/>
<rect x="1121.9" y="817.88" width="2.6" height="1.6" fill="#8a8a8a"/>
<rect x="1130.7" y="817.88" width="2.6" height="1.6" fill="#8a8a8a"/>
<rect x="27.2" y="888.198" width="2.6" height="1.6" fill="#8a8a8a"/>
<rect x="41.7" y="888.198" width="2.6" height="1.6" fill="#8a8a8a"/>
<rect x="33.9" y="888.398" width="1.4" height="1.2" fill="#ccc"/>
<rect x="1121.9" y="888.198" width="2.6" height="1.6" fill="#8a8a8a"/>
<rect x="1130.7" y="888.198" width="2.6" height="1.6" fill="#8a8a8a"/>
<rect x="130.5" y="905" width="1.6" height="2.6" fill="#8a8a8a"/>
<rect x="247.75" y="905" width="1.6" height="2.6" fill="#8a8a8a"/>
<rect x="365" y="905" width="1.6" height="2.6" fill="#8a8a8a"/>
<rect x="482.25" y="905" width="1.6" height="2.6" fill="#8a8a8a"/>
<rect x="599.5" y="905" width="1.6" height="2.6" fill="#8a8a8a"/>
<rect x="716.75" y="905" width="1.6" height="2.6" fill="#8a8a8a"/>
<rect x="834" y="905" width="1.6" height="2.6" fill="#8a8a8a"/>
<rect x="951.25" y="905" width="1.6" height="2.6" fill="#8a8a8a"/>
<rect x="1068.5" y="905" width="1.6" height="2.6" fill="#8a8a8a"/>
<rect x="1144.6" y="98.6" width="17.8" height="805.2" fill="#fff" stroke="#d2d2d2" stroke-width="1.8"/>
<rect x="1145.8" y="100.8" width="16" height="42.1" fill="#e8e8e8"/>
<rect x="1145.8" y="144.1" width="16" height="43.49" fill="#eef5d2"/>
<rect x="1145.8" y="188.79" width="16" height="43.49" fill="#e4f29a"/>
<rect x="1145.8" y="233.48" width="16" height="43.49" fill="#a6ca64"/>
<rect x="1145.8" y="278.17" width="16" height="43.49" fill="#e2ea14"/>
<rect x="1145.8" y="322.86" width="16" height="43.49" fill="#fde400"/>
<rect x="1145.8" y="367.55" width="16" height="43.49" fill="#fde47c"/>
<rect x="1145.8" y="412.24" width="16" height="43.49" fill="#f0c878"/>
<rect x="1145.8" y="456.93" width="16" height="43.49" fill="#eaa24a"/>
<rect x="1145.8" y="501.62" width="16" height="43.49" fill="#e48a3c"/>
<rect x="1145.8" y="546.31" width="16" height="43.49" fill="#d8783c"/>
<rect x="1145.8" y="591" width="16" height="43.49" fill="#ee063c"/>
<rect x="1145.8" y="635.69" width="16" height="43.49" fill="#e6549f"/>
<rect x="1145.8" y="680.38" width="16" height="43.49" fill="#9a70a8"/>
<rect x="1145.8" y="725.07" width="16" height="43.49" fill="#6270f5"/>
<rect x="1145.8" y="769.76" width="16" height="43.49" fill="#7e94fc"/>
<rect x="1145.8" y="814.45" width="16" height="43.49" fill="#8cb0ff"/>
<rect x="1145.8" y="859.14" width="16" height="42.86" fill="#b9c8ff"/>
<text x="1165.2" y="148.4" class="cbl">5.831</text>
<text x="1165.2" y="193.09" class="cbl">5.819</text>
<text x="1165.2" y="237.78" class="cbl">5.807</text>
<text x="1165.2" y="282.47" class="cbl">5.795</text>
<text x="1165.2" y="327.16" class="cbl">5.783</text>
<text x="1165.2" y="371.85" class="cbl">5.772</text>
<text x="1165.2" y="416.54" class="cbl">5.76</text>
<text x="1165.2" y="461.23" class="cbl">5.748</text>
<text x="1165.2" y="505.92" class="cbl">5.736</text>
<text x="1165.2" y="550.61" class="cbl">5.724</text>
<text x="1165.2" y="595.3" class="cbl">5.712</text>
<text x="1165.2" y="639.99" class="cbl">5.7</text>
<text x="1165.2" y="684.68" class="cbl">5.688</text>
<text x="1165.2" y="729.37" class="cbl">5.676</text>
<text x="1165.2" y="774.06" class="cbl">5.664</text>
<text x="1165.2" y="818.75" class="cbl">5.652</text>
<text x="1165.2" y="863.44" class="cbl">5.64</text>
</svg>
<div class="t" id="t1">Mapa de Espesor 500<span style="display:inline-block;transform:scaleX(1.45)">–</span>1000 (km, somd. + cont.)</div>
<div class="t" id="t2">10<span style="display:inline-block;transform:scaleX(1.3)">–</span>Feb<span style="display:inline-block;transform:scaleX(1.3)">–</span>2026</div>
<div class="t" id="t3">0700 UTC / 3:00 am Hora Local</div>
<div class="t" id="t4">Pronóstico con el Modelo Atmósferico WRF inicializado a las 1800UTC_09FEB2026 y válido hasta las  1800UTC_11FEB2026</div>
<div style="position:absolute;left:1px;top:0;width:30px;height:927px;overflow:hidden"><div class="yl" style="left:-34.8px;top:109.2px">22N</div>
<div class="yl" style="left:-34.8px;top:179.5px">21.5N</div>
<div class="yl" style="left:-34.8px;top:249.8px">21N</div>
<div class="yl" style="left:-34.8px;top:320.2px">20.5N</div>
<div class="yl" style="left:-34.8px;top:390.5px">20N</div>
<div class="yl" style="left:-34.8px;top:460.8px">19.5N</div>
<div class="yl" style="left:-34.8px;top:531.1px">19N</div>
<div class="yl" style="left:-34.8px;top:601.4px">18.5N</div>
<div class="yl" style="left:-34.8px;top:671.7px">18N</div>
<div class="yl" style="left:-34.8px;top:742.1px">17.5N</div>
<div class="yl" style="left:-34.8px;top:812.4px">17N</div>
<div class="yl" style="left:-34.8px;top:882.7px">16.5N</div></div>
<div class="xl" style="left:111.3px;top:907.8px">76W</div>
<div class="xl" style="left:228.6px;top:907.8px">75W</div>
<div class="xl" style="left:345.8px;top:907.8px">74W</div>
<div class="xl" style="left:463.1px;top:907.8px">73W</div>
<div class="xl" style="left:580.3px;top:907.8px">72W</div>
<div class="xl" style="left:697.5px;top:907.8px">71W</div>
<div class="xl" style="left:814.8px;top:907.8px">70W</div>
<div class="xl" style="left:932.0px;top:907.8px">69W</div>
<div class="xl" style="left:1049.3px;top:907.8px">68W</div>
<div id="logo"></div>
<div class="lg" style="left:930.9px;top:883px;font-size:15px;color:#1ea0ff">Sis</div>
<div class="lg" style="left:953px;top:880px;font-size:15px;color:#2020f0;-webkit-text-stroke:0.3px #2020f0;transform:scale(0.85,1.3);transform-origin:0 0">ππ</div>
<div class="lg" style="left:973.6px;top:880.5px;font-size:14px;color:#505050;transform:scaleX(1.3);transform-origin:0 0">–</div>
<div class="lg" style="left:991.6px;top:882.6px;font-size:13.5px;color:#555">ONAMET/REP.DOM.</div>
</div></body></html>
